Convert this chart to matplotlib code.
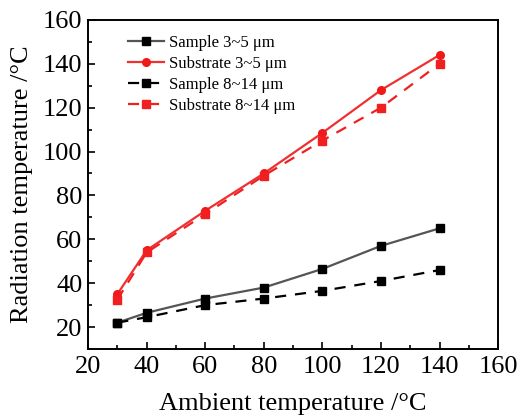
import matplotlib.pyplot as plt
from matplotlib.ticker import MultipleLocator

plt.rcParams['font.family'] = ['Liberation Serif', 'DejaVu Serif']
plt.rcParams['mathtext.fontset'] = 'stix'

# data
ambient = [30, 40, 60, 80, 100, 120, 140]
sample_35 = [22, 26.5, 33, 38, 46.5, 57, 65]
substrate_35 = [35, 55, 73, 90, 108.5, 128, 144]
sample_814 = [22, 24.5, 30, 33, 36.5, 41, 46]
substrate_814 = [32.5, 54, 71.5, 89, 105, 120, 140]

fig = plt.figure(figsize=(5.21, 4.15), dpi=100)
ax = fig.add_axes([0.169, 0.159, 0.787, 0.793])

ax.plot(ambient, sample_35, '-', color='#555555', lw=1.6, marker='s', ms=5.5,
        mfc='black', mec='black', label='Sample 3~5 μm')
ax.plot(ambient, substrate_35, '-', color='#f03030', lw=1.6, marker='o', ms=5.5,
        mfc='#f01818', mec='#f01818', label='Substrate 3~5 μm')
ax.plot(ambient, sample_814, '--', color='black', lw=1.6, marker='s', ms=5.5,
        dashes=(5, 4), label='Sample 8~14 μm')
ax.plot(ambient, substrate_814, '--', color='#f02020', lw=1.6, marker='s', ms=5.5,
        dashes=(5, 4), label='Substrate 8~14 μm')

ax.set_xlim(20, 160)
ax.set_ylim(10, 160)
ax.xaxis.set_major_locator(MultipleLocator(20))
ax.xaxis.set_minor_locator(MultipleLocator(10))
ax.yaxis.set_major_locator(MultipleLocator(20))
ax.yaxis.set_minor_locator(MultipleLocator(10))
ax.tick_params(which='both', direction='in', labelsize=19, width=1.2)
ax.tick_params(which='major', length=5)
ax.tick_params(which='minor', length=3)
ax.tick_params(axis='x', pad=5)
ax.tick_params(axis='y', pad=4)
for s in ax.spines.values():
    s.set_linewidth(1.4)

ax.set_xlabel('Ambient temperature /°C', fontsize=19, labelpad=11)
ax.set_ylabel('Radiation temperature /°C', fontsize=19, labelpad=7)

ax.legend(loc='upper left', frameon=False, fontsize=12, handlelength=2.2,
          handletextpad=0.3, labelspacing=0.3, borderaxespad=0.5,
          bbox_to_anchor=(0.06, 1.0))

fig.savefig('out.png', dpi=100)
